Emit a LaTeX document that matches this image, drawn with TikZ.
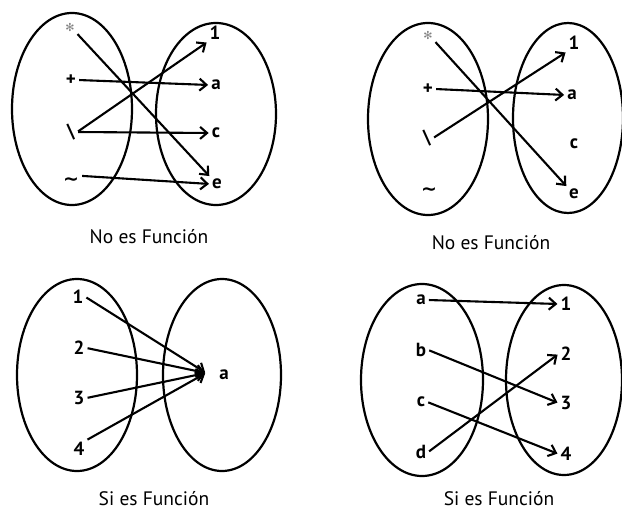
\documentclass[tikz,border=0pt]{standalone}
\usepackage{fontspec}
\setmainfont{PT Sans}
\newfontfamily\symfont{DejaVu Sans}
\newcommand{\flowerglyph}{{\symfont\fontsize{11}{12}\selectfont\char"273B}}
\newcommand{\tildeglyph}{{\symfont\bfseries\fontsize{19}{21}\selectfont\char"223C}}
\usetikzlibrary{arrows.meta}
\tikzset{
  setline/.style={line width=2.2pt},
  lbl/.style={font=\fontsize{19}{21}\selectfont\bfseries, inner sep=2pt},
  symlbl/.style={inner sep=2pt},
  ttl/.style={font=\fontsize{19.5}{22}\selectfont, inner sep=0pt},
  arr/.style={line width=2.1pt, -{Straight Barb[length=7pt,width=12pt,line width=2.1pt]}, shorten <=1pt, shorten >=1pt},
}
\begin{document}
\begin{tikzpicture}[x=1pt,y=-1pt]
\useasboundingbox (0,0) rectangle (622,511);
\clip (0,0) rectangle (622,511);
\fill[white] (0,0) rectangle (622,511);

% ---------- Panel 1 ----------
\draw[setline] (72,109) ellipse [x radius=60pt, y radius=96pt];
\draw[setline] (216,114) ellipse [x radius=60pt, y radius=91pt];
\node[symlbl, text=gray] (a1) at (70,27) {\flowerglyph};
\node[lbl] (a2) at (71,80) {+};
\node[lbl] (a3) at (71,132) {\textbackslash};
\node[symlbl] (a4) at (71,182) {\tildeglyph};
\node[lbl] (b1) at (215,33) {1};
\node[lbl] (b2) at (216,85) {a};
\node[lbl] (b3) at (216,133) {c};
\node[lbl] (b4) at (217,184) {e};
\draw[arr] (a1.south east) -- (b4.north west);
\draw[arr] (a2.east) -- (b2.west);
\draw[arr] (a3.east) -- (b1.south west);
\draw[arr] (a3.east) -- (b3.west);
\draw[arr] (a4.north east) -- (b4.west);
\node[ttl] (t1) at (149,237) {No es Función};

% ---------- Panel 2 ----------
\draw[setline] (428,119) ellipse [x radius=60pt, y radius=96pt];
\draw[setline] (568,118) ellipse [x radius=55pt, y radius=95pt];
\node[symlbl, text=gray] (c1) at (428,35) {\flowerglyph};
\node[lbl] (c2) at (428,89) {+};
\node[lbl] (c3) at (427,138) {\textbackslash};
\node[symlbl] (c4) at (429,192) {\tildeglyph};
\node[lbl] (d1) at (574,43) {1};
\node[lbl] (d2) at (572,95) {a};
\node[lbl] (d3) at (574,144) {c};
\node[lbl] (d4) at (574,194) {e};
\draw[arr] (c1.south east) -- (d4.north west);
\draw[arr] (c2.east) -- (d2.west);
\draw[arr] (c3.east) -- (d1.south west);
\node[ttl] (t2) at (491,243) {No es Función};

% ---------- Panel 3 ----------
\draw[setline] (77,375) ellipse [x radius=60pt, y radius=96pt];
\draw[setline] (222,375) ellipse [x radius=59pt, y radius=96pt];
\node[lbl] (e1) at (78,297) {1};
\node[lbl] (e2) at (79,348) {2};
\node[lbl] (e3) at (79,398) {3};
\node[lbl] (e4) at (79,449) {4};
\node[lbl] (f1) at (224,375) {a};
\coordinate (fa) at (206,373);
\draw[arr] (e1.east) -- (fa);
\draw[arr] (e2.east) -- (fa);
\draw[arr] (e3.east) -- (fa);
\draw[arr] (e4.north east) -- (fa);
\node[ttl] (t3) at (154,499) {Si es Función};

% ---------- Panel 4 ----------
\draw[setline] (422,380) ellipse [x radius=61pt, y radius=96pt];
\draw[setline] (564,380) ellipse [x radius=58pt, y radius=95pt];
\node[lbl] (g1) at (421,300) {a};
\node[lbl] (g2) at (421,350) {b};
\node[lbl] (g3) at (421,402) {c};
\node[lbl] (g4) at (421,452) {d};
\node[lbl] (h1) at (566,304) {1};
\node[lbl] (h2) at (566,354) {2};
\node[lbl] (h3) at (566,403) {3};
\node[lbl] (h4) at (566,454) {4};
\draw[arr] (g1.east) -- (h1.west);
\draw[arr] (g2.east) -- (h3.west);
\draw[arr] (g3.east) -- (h4.west);
\draw[arr] (g4.east) -- (h2.west);
\node[ttl] (t4) at (499,499) {Si es Función};
\end{tikzpicture}
\end{document}
